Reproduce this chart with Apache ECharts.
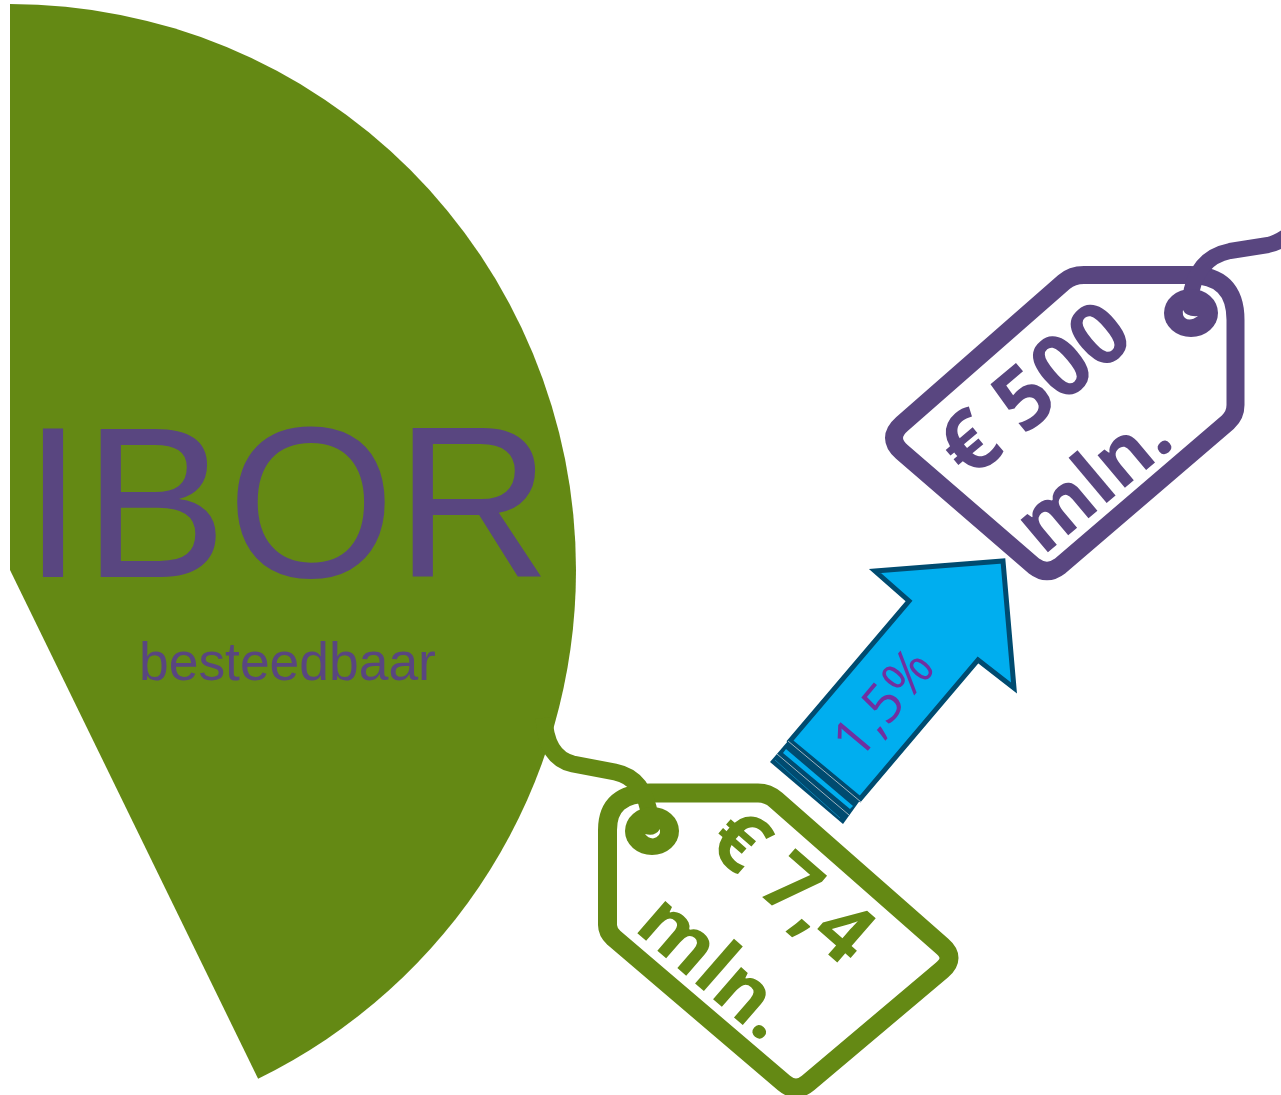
<!DOCTYPE html>
<html>
<head>
<meta charset="utf-8">
<title>IBOR</title>
<style>
    html, body { margin: 0; padding: 0; background: #fff; }
    #chart { width: 1281px; height: 1095px; }
</style>
<script src="https://cdn.jsdelivr.net/npm/echarts@6/dist/echarts.min.js"></script>
</head>
<body>
<div id="chart"></div>
<script>
// slice of the circle that is filled, the rest stays empty
var sliceNames = ['besteedbaar', 'rest'];
var sliceValues = [154, 206];

var titleText = 'IBOR';
var subTitleText = 'besteedbaar';
var greenTagLines = ['€ 7,4', 'mln.'];
var purpleTagLines = ['€ 500', 'mln.'];
var arrowText = '1,5%';

var GREEN = '#648914';
var PURPLE = '#594680';

function deg(d) {
    return d * Math.PI / 180;
}

var shapes = {
    greenTag: 'M607.5 830 Q607.5 793 650 793 L758 793 Q768 793 776 800 L942 946 Q956 958 942 970 L808 1083 Q796 1093 784 1083 L614 938 Q607.5 932 607.5 925 Z',
    greenEye: 'M625 831 A27 24 0 1 0 679 831 A27 24 0 1 0 625 831 Z',
    greenString: 'M544 718 Q546 758 573 764 L615 772 Q645 778 650 818',
    greenGlint: 'M645 834 Q655 837 660 829 Q661 837 653 838.5 Q648 838 645 834 Z',
    purpleTag: 'M1235.5 320 Q1235.5 275 1190 275 L1084 275 Q1072 275 1064 282 L902 424 Q886 438 902 452 L1034 566 Q1047 576 1060 566 L1228 422 Q1235.5 415 1235.5 405 Z',
    purpleEye: 'M1164 313 A27 24 0 1 0 1218 313 A27 24 0 1 0 1164 313 Z',
    purpleString: 'M1190 300 Q1195 258 1230 251 L1268 245 Q1278 243 1290 234',
    purpleGlint: 'M1183 310 Q1186 317 1198 316 Q1190 322 1185 318 Q1182 315 1183 310 Z'
};
for (var key in shapes) {
    echarts.graphic.registerShape(key, echarts.graphic.extendPath(shapes[key]));
}

// x, y is the start of the baseline, angle is clockwise in degrees
function baselineText(text, x, y, angle, size, weight, family, color) {
    return {
        type: 'text',
        x: x,
        y: y,
        rotation: deg(-angle),
        silent: true,
        z: 10,
        style: {
            text: text,
            x: 0,
            y: -0.78 * size,
            fill: color,
            fontSize: size,
            fontWeight: weight,
            fontFamily: family,
            textAlign: 'left',
            textBaseline: 'top'
        }
    };
}

var graphicElements = [
    // green tag
    { type: 'greenTag', z: 5, style: { fill: '#fff', stroke: GREEN, lineWidth: 19 } },
    { type: 'greenString', z: 5, style: { fill: null, stroke: GREEN, lineWidth: 17 } },
    { type: 'greenEye', z: 5, style: { fill: GREEN } },
    { type: 'greenGlint', z: 5, style: { fill: '#fff' } },
    // purple tag
    { type: 'purpleTag', z: 5, style: { fill: '#fff', stroke: PURPLE, lineWidth: 18 } },
    { type: 'purpleString', z: 5, style: { fill: null, stroke: PURPLE, lineWidth: 16 } },
    { type: 'purpleEye', z: 5, style: { fill: PURPLE } },
    { type: 'purpleGlint', z: 5, style: { fill: '#fff' } },
    // arrow
    {
        type: 'polygon', z: 5,
        shape: { points: [[770, 762], [788, 741], [861, 799], [843, 824]] },
        style: { fill: '#004b70' }
    },
    {
        type: 'polygon', z: 5,
        shape: { points: [[786, 749], [853, 806], [850, 809], [783, 753]] },
        style: { fill: '#00aeef' }
    },
    {
        type: 'polygon', z: 5,
        shape: { points: [[875, 571], [1003, 561], [1014, 688], [978, 660], [860, 799], [790, 741], [909, 601]] },
        style: { fill: '#00aeef', stroke: '#004b70', lineWidth: 5 }
    },
    { type: 'line', z: 5, shape: { x1: 788, y1: 741, x2: 861, y2: 802 }, style: { stroke: '#9fb4c0', lineWidth: 1 } },
    { type: 'line', z: 5, shape: { x1: 777, y1: 754, x2: 849, y2: 815 }, style: { stroke: '#9fb4c0', lineWidth: 1 } },
    { type: 'line', z: 5, shape: { x1: 775, y1: 760, x2: 840, y2: 818 }, style: { stroke: '#0a7fb0', lineWidth: 1 } },
    // texts
    baselineText(titleText, 23, 578, 0, 216, 'normal', '"Liberation Sans"', PURPLE),
    baselineText(subTitleText, 139, 680, 0, 53.4, 'normal', '"Liberation Sans"', PURPLE),
    baselineText(greenTagLines[0], 704, 846, 41, 82, 'bold', '"Open Sans"', GREEN),
    baselineText(greenTagLines[1], 633, 929, 41, 78, 'bold', '"Open Sans"', GREEN),
    baselineText(purpleTagLines[0], 969, 482, -40, 86, 'bold', '"Open Sans"', PURPLE),
    baselineText(purpleTagLines[1], 1043, 556, -40, 78, 'bold', '"Open Sans"', PURPLE),
    baselineText(arrowText, 858, 762, -50, 55, 'normal', '"Open Sans"', '#7030a0')
];

var chart = echarts.init(document.getElementById('chart'), null, { renderer: 'canvas' });
chart.setOption({
    animation: false,
    backgroundColor: '#fff',
    series: [
        {
            type: 'pie',
            center: [10, 570],
            radius: [0, 566],
            startAngle: 90,
            clockwise: true,
            silent: true,
            label: { show: false },
            labelLine: { show: false },
            data: [
                { name: sliceNames[0], value: sliceValues[0], itemStyle: { color: GREEN } },
                { name: sliceNames[1], value: sliceValues[1], itemStyle: { color: 'rgba(0,0,0,0)' } }
            ]
        }
    ],
    graphic: { elements: graphicElements }
});
</script>
</body>
</html>
